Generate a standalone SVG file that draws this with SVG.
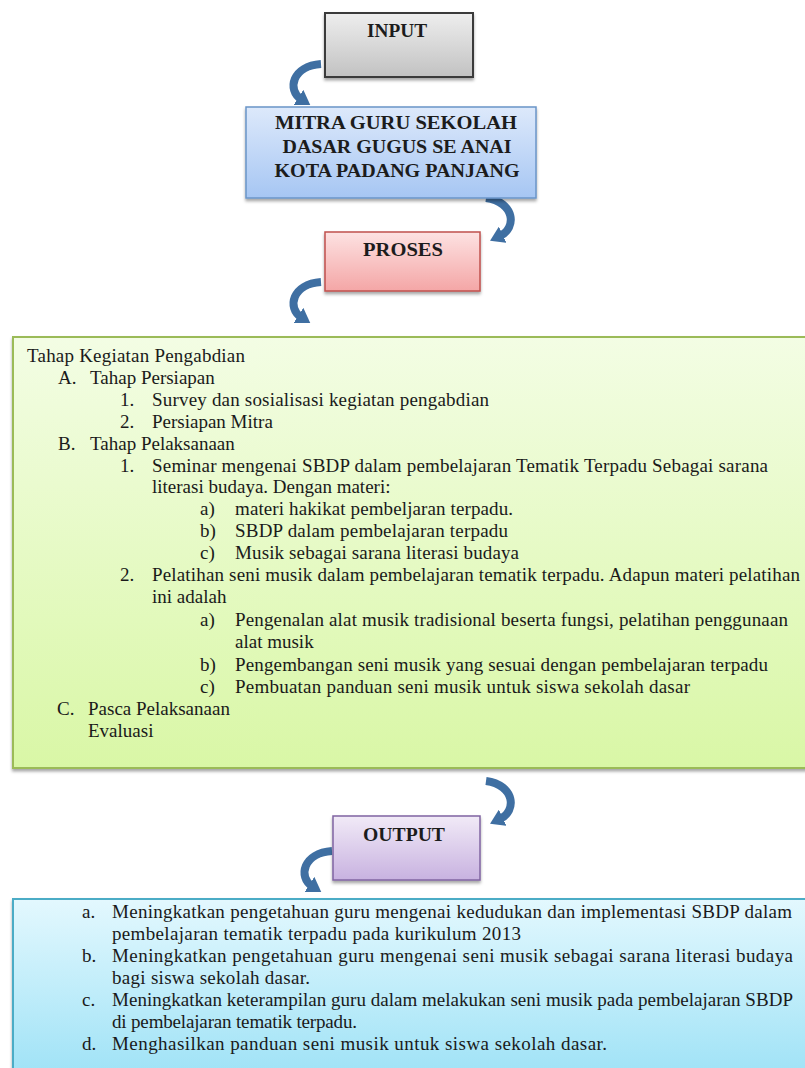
<svg xmlns="http://www.w3.org/2000/svg" width="805" height="1068" viewBox="0 0 805 1068">
<defs>
<linearGradient id="gGray" x1="0" y1="0" x2="0" y2="1"><stop offset="0" stop-color="#eeeeee"/><stop offset="1" stop-color="#c2c2c2"/></linearGradient>
<linearGradient id="gBlue" x1="0" y1="0" x2="0" y2="1"><stop offset="0" stop-color="#dde9fb"/><stop offset="1" stop-color="#a6c6f3"/></linearGradient>
<linearGradient id="gRed" x1="0" y1="0" x2="0" y2="1"><stop offset="0" stop-color="#fde2e2"/><stop offset="1" stop-color="#f4a6a6"/></linearGradient>
<linearGradient id="gGreen" x1="0" y1="0" x2="0" y2="1"><stop offset="0" stop-color="#f3fde4"/><stop offset="1" stop-color="#d9f7a6"/></linearGradient>
<linearGradient id="gPurple" x1="0" y1="0" x2="0" y2="1"><stop offset="0" stop-color="#f1eaf7"/><stop offset="1" stop-color="#c8b2e0"/></linearGradient>
<linearGradient id="gCyan" x1="0" y1="0" x2="0" y2="1"><stop offset="0" stop-color="#e3f8fe"/><stop offset="1" stop-color="#9ee2f6"/></linearGradient>
<filter id="sh" x="-10%" y="-10%" width="120%" height="130%"><feDropShadow dx="0" dy="2.5" stdDeviation="1.8" flood-color="#000" flood-opacity="0.35"/></filter>
<marker id="ah" markerUnits="userSpaceOnUse" markerWidth="14" markerHeight="18" viewBox="0 0 14 18" refX="3" refY="9" orient="auto"><path d="M0,0 L14,9 L0,18 z" fill="#3f6fa2"/></marker>
<style>
.hd{font-family:"Liberation Serif",serif;font-weight:bold;font-size:19px;fill:#1c1c1c;text-anchor:middle}
.tx{font-family:"Liberation Serif",serif;font-size:19px;fill:#1a1a1a}
.arr{fill:none;stroke:#3f6fa2;stroke-width:8;marker-end:url(#ah)}
</style>
</defs>

<g id="connectors">
<path class="arr" d="M 321 64 C 292 66, 287 90, 301 99"/>
<path class="arr" d="M 486 198 C 515 202, 517 228, 500 236"/>
<path class="arr" d="M 321 282 C 292 284, 287 308, 301 317"/>
<path class="arr" d="M 486 781 C 515 785, 517 811, 500 819"/>
<path class="arr" d="M 332 851 C 303 853, 298 877, 312 886"/>
</g>

<g id="input">
<rect x="325" y="13" width="148" height="64" fill="url(#gGray)" stroke="#3a3a3a" stroke-width="2" filter="url(#sh)"/>
<text class="hd" x="397" y="37" textLength="60" lengthAdjust="spacingAndGlyphs">INPUT</text>
</g>

<g id="mitra">
<rect x="246" y="107" width="290" height="91" fill="url(#gBlue)" stroke="#6a95c8" stroke-width="1.5" filter="url(#sh)"/>
<text class="hd" x="396" y="129" textLength="242" lengthAdjust="spacingAndGlyphs">MITRA GURU SEKOLAH</text>
<text class="hd" x="397" y="153" textLength="229" lengthAdjust="spacingAndGlyphs">DASAR GUGUS SE ANAI</text>
<text class="hd" x="397" y="177" textLength="245" lengthAdjust="spacingAndGlyphs">KOTA PADANG PANJANG</text>
</g>

<g id="proses">
<rect x="325" y="232" width="155" height="59" fill="url(#gRed)" stroke="#c0504d" stroke-width="1.5" filter="url(#sh)"/>
<text class="hd" x="403" y="256" textLength="80" lengthAdjust="spacingAndGlyphs">PROSES</text>
</g>

<g id="tahap">
<rect x="13" y="337" width="800" height="431" fill="url(#gGreen)" stroke="#9bbb59" stroke-width="2" filter="url(#sh)"/>
<text class="tx" x="27" y="362" textLength="218" lengthAdjust="spacing">Tahap Kegiatan Pengabdian</text>
<text class="tx" x="58" y="384">A.</text><text class="tx" x="90" y="384">Tahap Persiapan</text>
<text class="tx" x="120" y="406">1.</text><text class="tx" x="152" y="406" textLength="337" lengthAdjust="spacing">Survey dan sosialisasi kegiatan pengabdian</text>
<text class="tx" x="120" y="428">2.</text><text class="tx" x="152" y="428">Persiapan Mitra</text>
<text class="tx" x="58" y="450">B.</text><text class="tx" x="90" y="450">Tahap Pelaksanaan</text>
<text class="tx" x="120" y="472">1.</text><text class="tx" x="152" y="472" textLength="616" lengthAdjust="spacing">Seminar mengenai SBDP dalam pembelajaran Tematik Terpadu Sebagai sarana</text>
<text class="tx" x="152" y="493">literasi budaya. Dengan materi:</text>
<text class="tx" x="200" y="515">a)</text><text class="tx" x="235" y="515" textLength="278" lengthAdjust="spacing">materi hakikat pembeljaran terpadu.</text>
<text class="tx" x="200" y="537">b)</text><text class="tx" x="235" y="537" textLength="273" lengthAdjust="spacing">SBDP dalam pembelajaran terpadu</text>
<text class="tx" x="200" y="559">c)</text><text class="tx" x="235" y="559" textLength="284" lengthAdjust="spacing">Musik sebagai sarana literasi budaya</text>
<text class="tx" x="120" y="581">2.</text><text class="tx" x="152" y="581" textLength="648" lengthAdjust="spacing">Pelatihan seni musik dalam pembelajaran tematik terpadu. Adapun materi pelatihan</text>
<text class="tx" x="152" y="603">ini adalah</text>
<text class="tx" x="200" y="626">a)</text><text class="tx" x="235" y="626" textLength="553" lengthAdjust="spacing">Pengenalan alat musik tradisional beserta fungsi, pelatihan penggunaan</text>
<text class="tx" x="235" y="648">alat musik</text>
<text class="tx" x="200" y="671">b)</text><text class="tx" x="235" y="671" textLength="533" lengthAdjust="spacing">Pengembangan seni musik yang sesuai dengan pembelajaran terpadu</text>
<text class="tx" x="200" y="693">c)</text><text class="tx" x="235" y="693" textLength="455" lengthAdjust="spacing">Pembuatan panduan seni musik untuk siswa sekolah dasar</text>
<text class="tx" x="57" y="715">C.</text><text class="tx" x="88" y="715">Pasca Pelaksanaan</text>
<text class="tx" x="88" y="737">Evaluasi</text>
</g>

<g id="output">
<rect x="333" y="816" width="147" height="64" fill="url(#gPurple)" stroke="#8064a2" stroke-width="1.5" filter="url(#sh)"/>
<text class="hd" x="404" y="841" textLength="82" lengthAdjust="spacingAndGlyphs">OUTPUT</text>
</g>

<g id="hasil">
<rect x="13" y="899" width="800" height="180" fill="url(#gCyan)" stroke="#4bacc6" stroke-width="2" filter="url(#sh)"/>
<text class="tx" x="82" y="918">a.</text><text class="tx" x="112" y="918" textLength="680" lengthAdjust="spacing">Meningkatkan pengetahuan guru mengenai kedudukan dan implementasi SBDP dalam</text>
<text class="tx" x="112" y="940" textLength="409" lengthAdjust="spacing">pembelajaran tematik terpadu pada kurikulum 2013</text>
<text class="tx" x="82" y="962">b.</text><text class="tx" x="112" y="962" textLength="681" lengthAdjust="spacing">Meningkatkan pengetahuan guru mengenai seni musik sebagai sarana literasi budaya</text>
<text class="tx" x="112" y="984" textLength="198" lengthAdjust="spacing">bagi siswa sekolah dasar.</text>
<text class="tx" x="82" y="1006">c.</text><text class="tx" x="112" y="1006" textLength="681" lengthAdjust="spacing">Meningkatkan keterampilan guru dalam melakukan seni musik pada pembelajaran SBDP</text>
<text class="tx" x="112" y="1028" textLength="245" lengthAdjust="spacing">di pembelajaran tematik terpadu.</text>
<text class="tx" x="82" y="1050">d.</text><text class="tx" x="112" y="1050" textLength="495" lengthAdjust="spacing">Menghasilkan panduan seni musik untuk siswa sekolah dasar.</text>
</g>
</svg>
